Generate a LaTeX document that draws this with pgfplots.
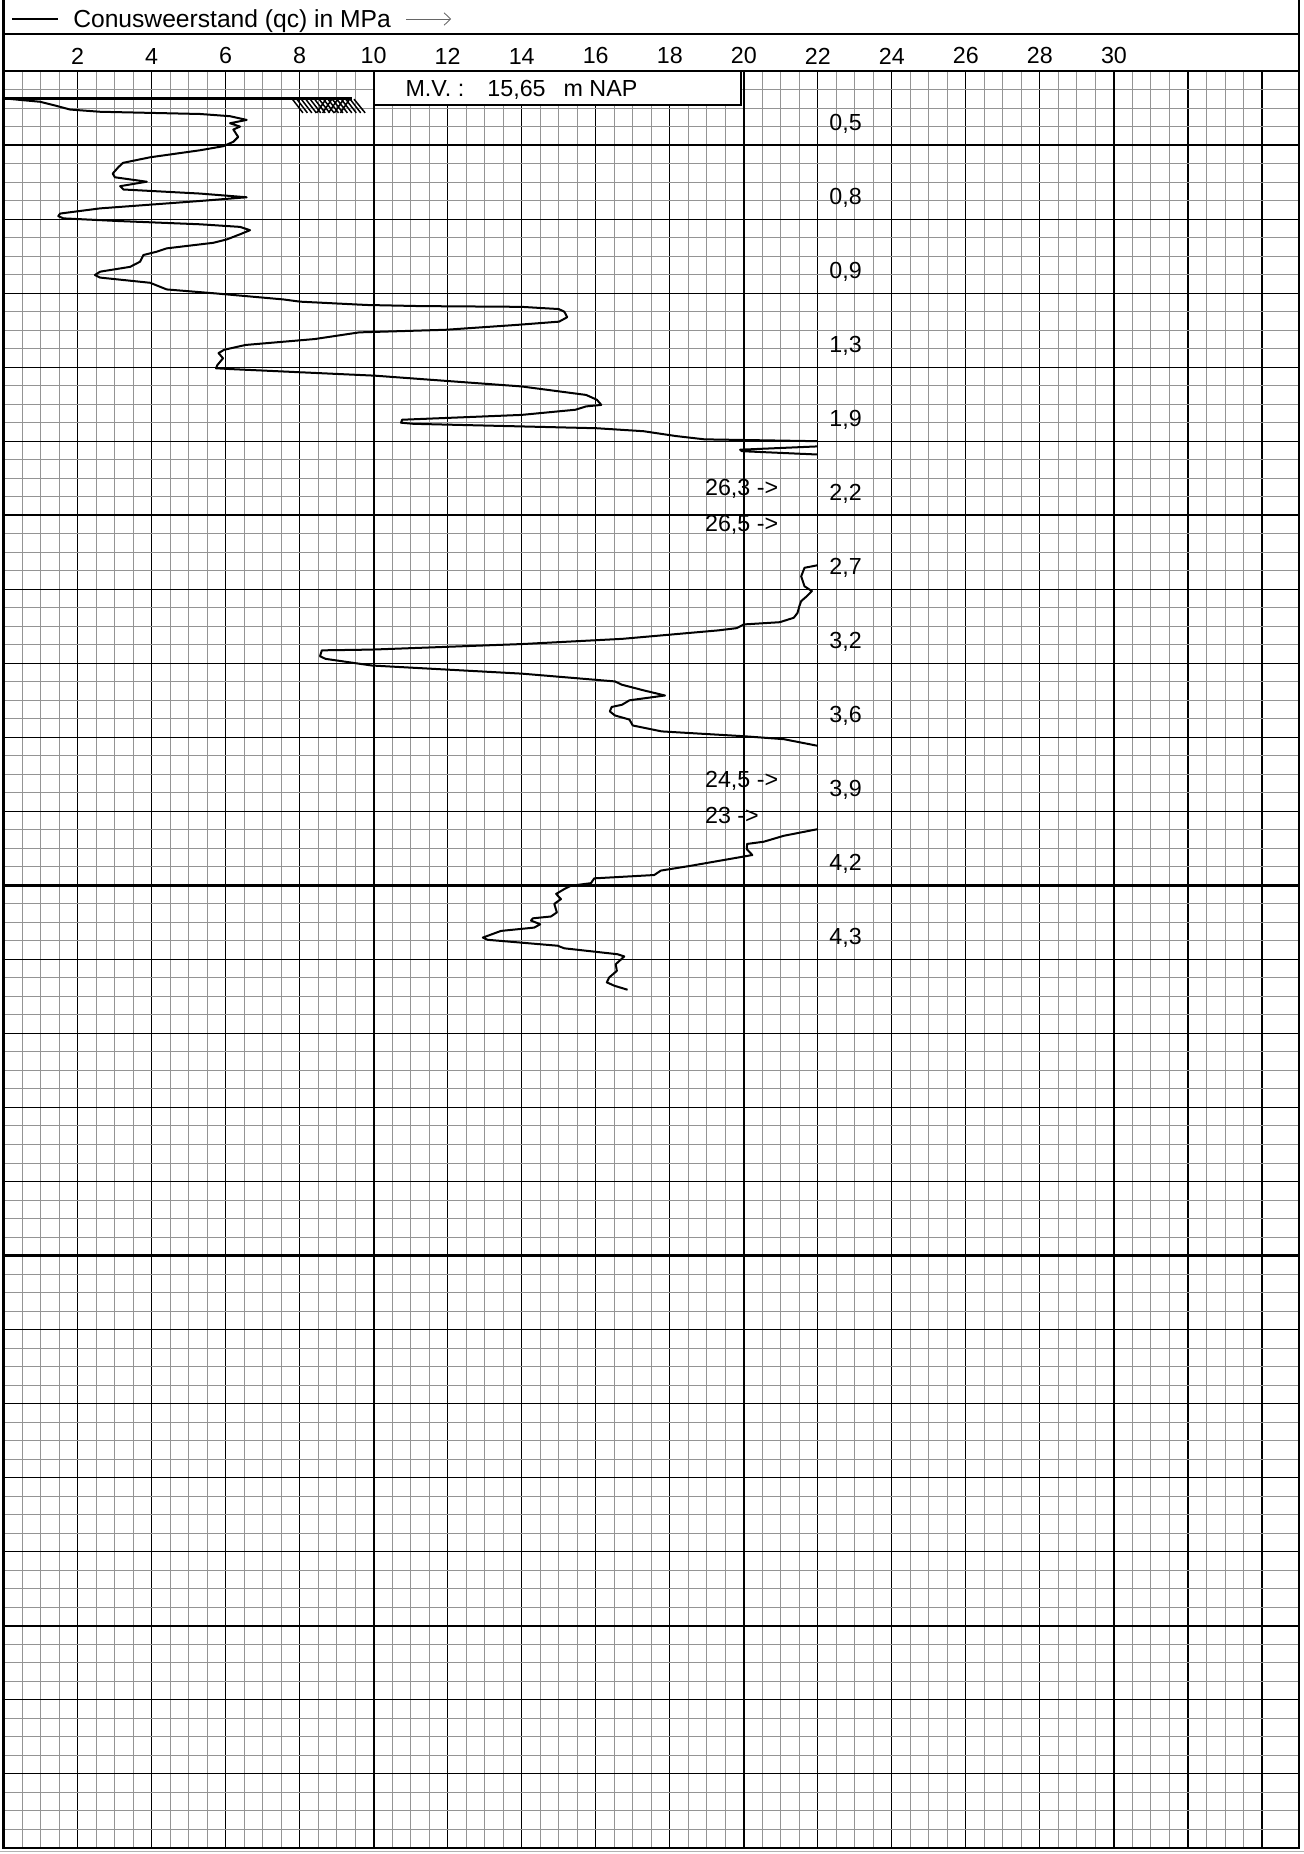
\documentclass[border=0pt]{standalone}
\usepackage{fontspec}
\setmainfont{Liberation Sans}
\usepackage{pgfplots}
\usepackage{pgfplotstable}
\pgfplotsset{compat=1.18}
\usetikzlibrary{arrows.meta}

% qc in MPa, d = depth in grid units (10 units = 1 m), values > 22 run off the chart
\pgfplotstableread{
qc d
0.04 0.74
0.45 0.78
0.99 0.83
1.35 0.92
1.80 1.04
2.61 1.10
3.96 1.13
5.31 1.16
6.12 1.22
6.57 1.32
6.12 1.41
6.39 1.50
6.21 1.58
6.34 1.78
6.21 1.91
5.94 2.03
5.31 2.14
3.96 2.33
3.23 2.48
3.10 2.60
2.95 2.77
3.01 2.87
3.87 2.99
3.15 3.11
3.24 3.20
5.31 3.31
6.57 3.41
5.31 3.51
2.61 3.71
1.53 3.85
1.48 3.92
1.62 3.98
3.06 4.05
5.31 4.14
6.39 4.21
6.66 4.30
6.39 4.41
6.03 4.55
5.67 4.64
4.41 4.79
4.14 4.88
3.78 4.97
3.69 5.15
3.42 5.29
2.61 5.42
2.47 5.51
2.61 5.58
3.96 5.72
4.41 5.90
5.76 6.01
7.56 6.17
8.01 6.23
9.82 6.32
11.26 6.35
13.99 6.37
15.00 6.43
15.15 6.50
15.23 6.65
15.01 6.77
13.84 6.86
11.94 6.99
9.61 7.06
8.41 7.24
6.54 7.40
5.96 7.53
5.81 7.62
5.93 7.76
5.78 7.94
5.74 8.03
6.10 8.05
10.04 8.23
13.99 8.52
15.74 8.75
16.03 8.88
16.15 9.02
15.74 9.06
15.45 9.15
13.99 9.29
10.77 9.42
10.74 9.50
11.07 9.53
16.03 9.65
17.29 9.73
18.16 9.86
18.94 9.95
22.00 10.00
26.30 10.07
22.00 10.14
19.90 10.23
19.95 10.27
22.00 10.36
26.50 10.70
26.00 13.10
22.00 13.35
21.64 13.42
21.55 13.65
21.64 13.92
21.84 14.05
21.70 14.19
21.55 14.32
21.50 14.46
21.45 14.64
21.35 14.77
20.97 14.89
20.00 14.95
19.81 15.05
19.32 15.11
16.71 15.34
14.01 15.48
9.95 15.63
8.60 15.65
8.55 15.81
8.70 15.88
9.95 16.06
14.01 16.28
16.52 16.49
16.71 16.58
17.29 16.73
17.87 16.87
16.91 17.00
16.71 17.12
16.43 17.18
16.38 17.30
16.52 17.41
16.91 17.52
17.00 17.68
17.78 17.84
20.00 17.97
21.08 18.05
22.00 18.23
24.50 18.80
23.00 20.20
22.00 20.48
21.08 20.66
20.54 20.82
20.09 20.88
20.08 21.02
20.23 21.18
20.00 21.22
18.57 21.47
17.76 21.60
17.58 21.72
15.96 21.81
15.87 21.94
15.33 22.01
15.15 22.10
14.93 22.23
15.06 22.37
14.88 22.50
14.95 22.73
14.79 22.84
14.30 22.89
14.25 22.95
14.50 23.05
14.34 23.14
13.44 23.23
12.95 23.41
13.08 23.47
14.97 23.63
15.15 23.70
16.59 23.86
16.77 23.92
16.54 24.13
16.57 24.31
16.36 24.49
16.30 24.62
16.50 24.71
16.86 24.82
}\sondering

\newcommand\lab{\fontsize{9.3}{11}\selectfont}

\begin{document}
\begin{tikzpicture}
% page = 1303 x 1854 px at 0.4 pt/px, grid top-left at the origin
\useasboundingbox (-1.4pt,-712.9pt) rectangle (519.8pt,28.4pt);
\begin{axis}[
    at={(0pt,0pt)}, anchor=north west,
    scale only axis,
    width=518pt, height=710.4pt,
    xmin=0, xmax=35, ymin=0, ymax=48,
    y dir=reverse,
    xtick={0,2,...,34},
    xticklabels={,2,4,6,8,10,12,14,16,18,20,22,24,26,28,30,,},
    ytick={0,2,...,48},
    yticklabels={},
    minor x tick num=3, minor y tick num=3,
    grid=both,
    major grid style={black, line width=0.45pt},
    minor grid style={black!42, line width=0.4pt},
    extra x ticks={10,20,30}, extra x tick labels={},
    extra y ticks={2,12,22,32,42}, extra y tick labels={},
    extra tick style={grid=major, major grid style={black, line width=0.9pt}},
    tick style={draw=none},
    major tick length=0pt, minor tick length=0pt,
    axis line style={line width=0.9pt},
    xticklabel pos=right,
    xticklabel style={font=\lab, inner sep=2.6pt},
]
\coordinate (TL) at (axis cs:0,0);
\coordinate (TR) at (axis cs:35,0);

% cone resistance, clipped at 22 MPa
\addplot[black, line width=0.8pt, line join=round,
    restrict x to domain=0:22, unbounded coords=jump]
    table[x=qc, y=d] {\sondering};

% ground surface
\addplot[black, line width=1.1pt] coordinates {(0,0.74) (9.41,0.74)};
\draw[line width=0.6pt]
  (axis cs:7.79,0.74) -- (axis cs:8.09,1.13)
  (axis cs:7.91,0.74) -- (axis cs:8.21,1.13)
  (axis cs:8.03,0.74) -- (axis cs:8.33,1.13)
  (axis cs:8.15,0.74) -- (axis cs:8.45,1.13)
  (axis cs:8.27,0.74) -- (axis cs:8.57,1.13)
  (axis cs:8.39,0.74) -- (axis cs:8.69,1.13)
  (axis cs:8.51,0.74) -- (axis cs:8.81,1.13)
  (axis cs:8.63,0.74) -- (axis cs:8.93,1.13)
  (axis cs:8.75,0.74) -- (axis cs:9.05,1.13)
  (axis cs:8.87,0.74) -- (axis cs:9.17,1.13)
  (axis cs:8.99,0.74) -- (axis cs:9.29,1.13)
  (axis cs:9.11,0.74) -- (axis cs:9.41,1.13)
  (axis cs:9.23,0.74) -- (axis cs:9.53,1.13)
  (axis cs:9.35,0.74) -- (axis cs:9.65,1.13)
  (axis cs:9.47,0.76) -- (axis cs:9.77,1.13)
  (axis cs:8.46,1.13) -- (axis cs:8.71,0.76)
  (axis cs:8.62,1.13) -- (axis cs:8.87,0.76)
  (axis cs:8.78,1.13) -- (axis cs:9.03,0.76)
  (axis cs:8.94,1.13) -- (axis cs:9.19,0.76)
  (axis cs:9.10,1.13) -- (axis cs:9.35,0.76);

% M.V. box
\draw[fill=white, line width=0.9pt] (axis cs:10,0) rectangle (axis cs:19.93,0.92);
\node[anchor=base west, inner sep=0, font=\lab] at (axis cs:10.85,0.70) {M.V. :};
\node[anchor=base west, inner sep=0, font=\lab] at (axis cs:13.06,0.70) {15,65};
\node[anchor=base west, inner sep=0, font=\lab] at (axis cs:15.12,0.70) {m NAP};

% values at the right
\node[anchor=base west, inner sep=0, font=\lab] at (axis cs:22.3,1.60) {0,5};
\node[anchor=base west, inner sep=0, font=\lab] at (axis cs:22.3,3.60) {0,8};
\node[anchor=base west, inner sep=0, font=\lab] at (axis cs:22.3,5.60) {0,9};
\node[anchor=base west, inner sep=0, font=\lab] at (axis cs:22.3,7.60) {1,3};
\node[anchor=base west, inner sep=0, font=\lab] at (axis cs:22.3,9.60) {1,9};
\node[anchor=base west, inner sep=0, font=\lab] at (axis cs:22.3,11.60) {2,2};
\node[anchor=base west, inner sep=0, font=\lab] at (axis cs:22.3,13.60) {2,7};
\node[anchor=base west, inner sep=0, font=\lab] at (axis cs:22.3,15.60) {3,2};
\node[anchor=base west, inner sep=0, font=\lab] at (axis cs:22.3,17.60) {3,6};
\node[anchor=base west, inner sep=0, font=\lab] at (axis cs:22.3,19.60) {3,9};
\node[anchor=base west, inner sep=0, font=\lab] at (axis cs:22.3,21.60) {4,2};
\node[anchor=base west, inner sep=0, font=\lab] at (axis cs:22.3,23.60) {4,3};

% off-scale values
\node[anchor=base west, inner sep=0, font=\lab] at (axis cs:18.94,11.48) {26,3 ->};
\node[anchor=base west, inner sep=0, font=\lab] at (axis cs:18.94,12.45) {26,5 ->};
\node[anchor=base west, inner sep=0, font=\lab] at (axis cs:18.94,19.35) {24,5 ->};
\node[anchor=base west, inner sep=0, font=\lab] at (axis cs:18.94,20.34) {23 ->};
\end{axis}

% header
\draw[line width=0.9pt] (TL) -- ++(0,28.4pt);
\draw[line width=0.9pt] (TR) -- ++(0,28.4pt);
\draw[line width=0.6pt] ([yshift=14.8pt]TL) -- ([yshift=14.8pt]TR);
\draw[line width=0.8pt] ([shift={(3.4pt,20.8pt)}]TL) -- ++(18.4pt,0);
\node[anchor=base west, inner sep=0, font=\fontsize{9.85}{11}\selectfont]
  at ([shift={(27.7pt,17.4pt)}]TL) {Conusweerstand (qc) in MPa};
\draw[black!60, line width=0.35pt, -{Straight Barb[length=2.6pt,width=5pt]}]
  ([shift={(161pt,20.8pt)}]TL) -- ++(18pt,0);
\draw[black!30, line width=0.4pt] (-1.4pt,-711.8pt) -- (519.8pt,-711.8pt);
\end{tikzpicture}
\end{document}
